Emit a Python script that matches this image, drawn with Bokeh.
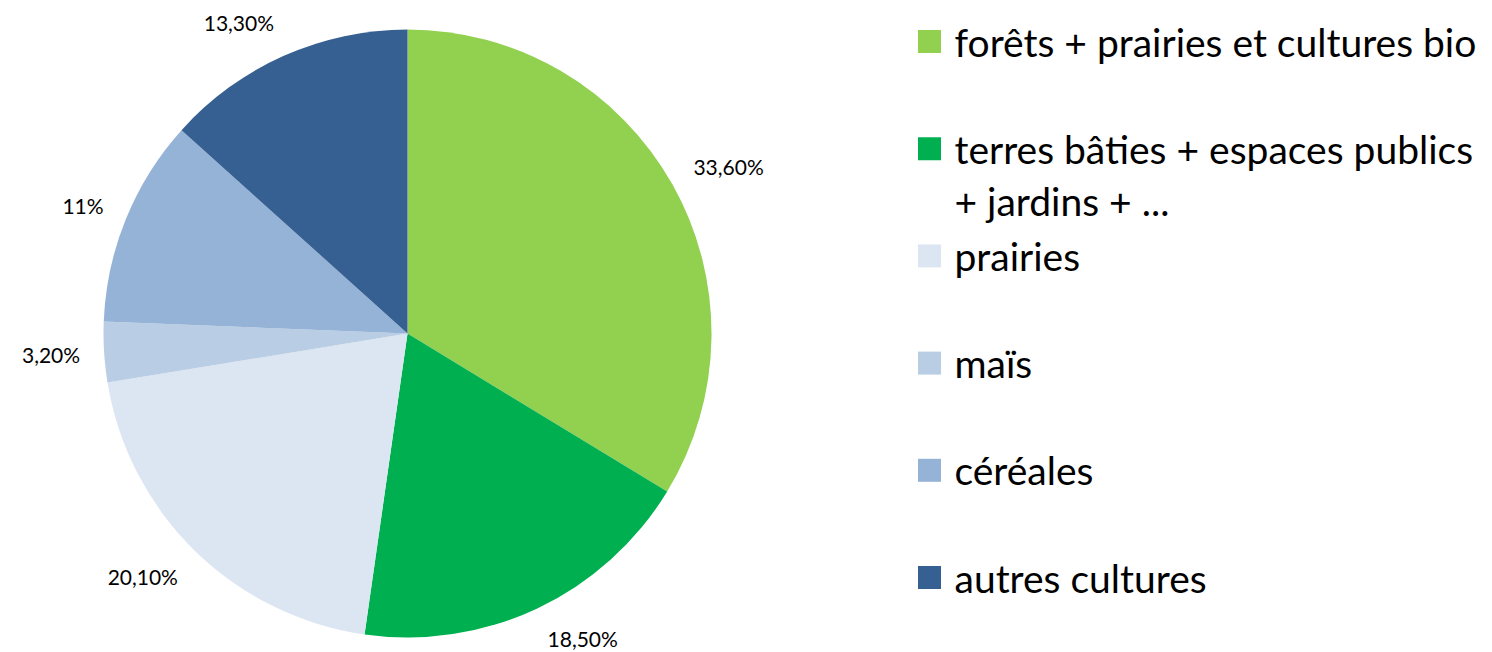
import math
from bokeh.plotting import figure
from bokeh.models import Range1d, ColumnDataSource
from bokeh.core.properties import value
from bokeh.embed import file_html
from bokeh.resources import INLINE

# ---- data ----
categories = [
    "forêts + prairies et cultures bio",
    "terres bâties + espaces publics\n+ jardins + ...",
    "prairies",
    "maïs",
    "céréales",
    "autres cultures",
]
shares = [33.6, 18.5, 20.1, 3.2, 11.0, 13.3]
share_labels = ["33,60%", "18,50%", "20,10%", "3,20%", "11%", "13,30%"]
colors = ["#92D050", "#00B050", "#DCE6F2", "#B9CDE5", "#95B3D7", "#376092"]

W, H = 1492, 652
FONT = "Lato"

p = figure(width=W, height=H, output_backend="svg", toolbar_location=None,
           x_range=Range1d(0, W), y_range=Range1d(0, H), min_border=0)
p.axis.visible = False
p.grid.visible = False
p.outline_line_color = None
p.background_fill_color = "white"
p.border_fill_color = "white"

cx, cy, r = 407, H - 333, 304
total = sum(shares)
starts, ends, mids = [], [], []
acc = 0.0
for s in shares:
    a0 = math.pi / 2 - 2 * math.pi * acc / total
    acc += s
    a1 = math.pi / 2 - 2 * math.pi * acc / total
    starts.append(a0)
    ends.append(a1)
    mids.append((a0 + a1) / 2)

src = ColumnDataSource(dict(start=starts, end=ends, color=colors))
p.wedge(x=cx, y=cy, radius=r, start_angle="start", end_angle="end",
        direction="clock", fill_color="color", line_color=None, source=src)

# data labels (best-fit outside)
lx, ly, la = [], [], []
gap = 24
for m in mids:
    c, s = math.cos(m), math.sin(m)
    ax = cx + (r + gap) * c
    ay = cy + (r + gap) * s + s * 12
    ay = max(ay, 14)  # keep inside the bottom edge
    lx.append(ax)
    ly.append(ay)
    la.append("left" if c > 0 else "right")
p.text(x=lx, y=ly, text=share_labels, text_align=la, text_baseline="middle",
       text_font=value(FONT), text_font_size="21px", text_color="#000000")

# legend
lg_x = 929
lg_y0 = 41
lg_step = 107.2
sq = 23
rx, ry, rc = [], [], []
tx, ty, tt = [], [], []
for i, (cat, col) in enumerate(zip(categories, colors)):
    yc = lg_y0 + i * lg_step
    rx.append(lg_x)
    ry.append(H - yc)
    rc.append(col)
    for j, line in enumerate(cat.split("\n")):
        tx.append(954)
        ty.append(H - (yc + j * 52))
        tt.append(line)
p.rect(x=rx, y=ry, width=sq, height=sq, fill_color=rc, line_color=None)
p.text(x=tx, y=ty, text=tt, text_align="left", text_baseline="middle",
       text_font=value(FONT), text_font_size="39px", text_color="#000000")

open("out.html", "w").write(file_html(p, INLINE))
